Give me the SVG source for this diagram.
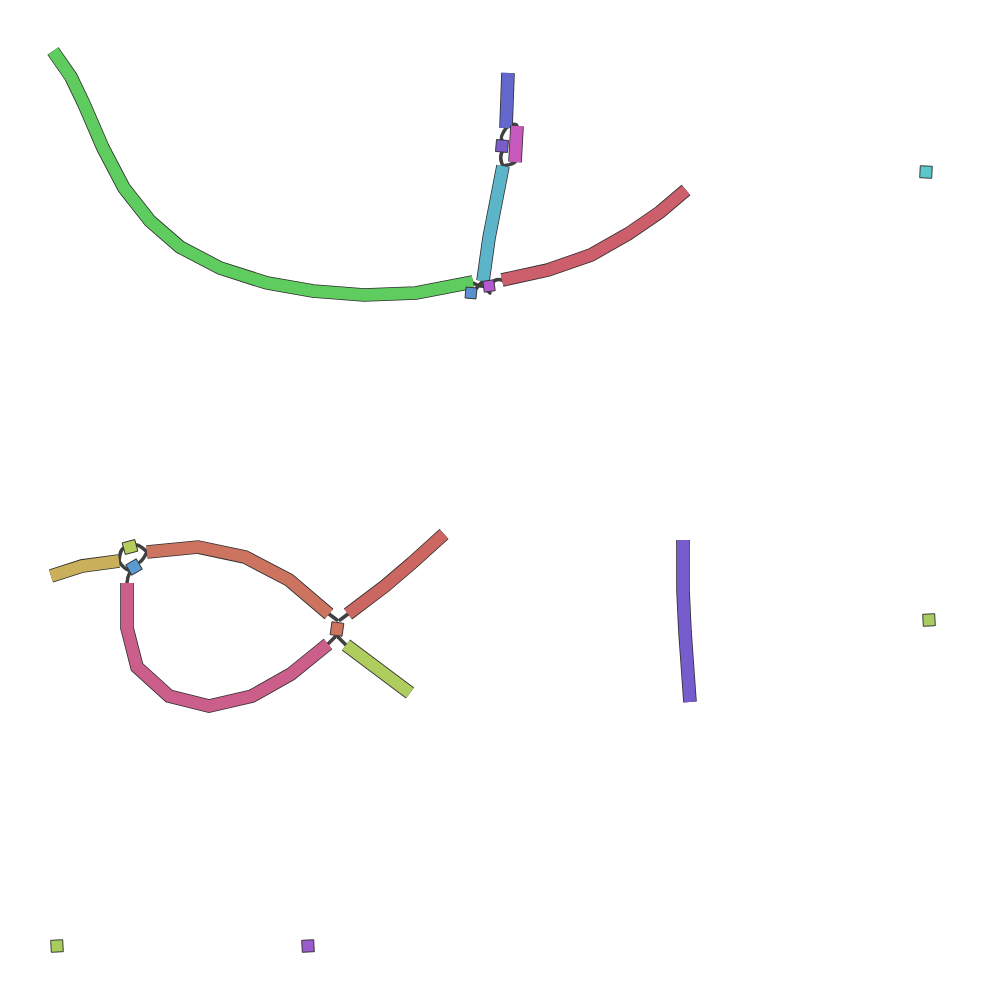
<svg xmlns="http://www.w3.org/2000/svg" xmlns:xlink="http://www.w3.org/1999/xlink" width="982" height="1000" viewBox="0 0 982 1000">
<style>
.o{fill:none;stroke:#2f2f2f;stroke-width:13.6;stroke-linejoin:miter;stroke-linecap:butt}
.f{fill:none;stroke-width:12;stroke-linejoin:miter;stroke-linecap:butt}
.sq{stroke:#2f2f2f;stroke-width:0.9}
.c{fill:none;stroke:#404040;stroke-width:3.5;stroke-linecap:round}
</style>
<defs>
<path id="p1" d="M53,51 L71,77 L84,104 L103,148 L124,188 L150,221 L180,247 L220,268 L267,283 L313,291 L364,295 L416,293 L473,282"/>
<path id="p2" d="M483,281 L489,238 L503,166"/>
<path id="p3" d="M508,73 L506,128"/>
<path id="p4" d="M517,126 L515,162"/>
<path id="p5" d="M502,280 L548,270 L591,255 L628,234 L660,212 L686,190"/>
<path id="p6" d="M51,576 L82,566 L119,561"/>
<path id="p7" d="M147,552 L198,547 L245,557 L289,580 L329,614"/>
<path id="p8" d="M127,583 L127,628 L137,667 L169,696 L209,706 L252,696 L291,674 L328,644"/>
<path id="p9" d="M348,614 L385,586 L412,563 L444,534"/>
<path id="p10" d="M346,645 L410,693"/>
<path id="p11" d="M683,540 L683,590 L685,632 L690,702"/>
</defs>
<g id="connectors">
<path class="c" d="M506,128 C502,134 500,138 502,140"/>
<path class="c" d="M502,152 C500,156 501,162 503,166"/>
<path class="c" d="M506,128 C510,124 516,123 517,126"/>
<path class="c" d="M515,162 C512,165 506,165 503,166"/>
<path class="c" d="M473,283 C478,286 482,287 486,286"/>
<path class="c" d="M483,281 C480,284 476,288 474,292"/>
<path class="c" d="M483,281 C484,285 487,291 490,293"/>
<path class="c" d="M492,283 C495,279 499,279 502,280"/>
<path class="c" d="M119,561 C120,552 121,549 124,548"/>
<path class="c" d="M119,561 C121,565 124,568 128,570"/>
<path class="c" d="M137,545 C141,546 144,549 147,552"/>
<path class="c" d="M140,562 C143,560 145,556 147,552"/>
<path class="c" d="M130,572 C128,576 127,580 127,583"/>
<path class="c" d="M329,614 L337,620"/>
<path class="c" d="M348,614 L340,620"/>
<path class="c" d="M328,644 L335,637"/>
<path class="c" d="M346,645 L338,637"/>
</g>
<g id="seg-green"><use xlink:href="#p1" class="o"/><use xlink:href="#p1" class="f" stroke="#5ecc5e"/></g>
<g id="seg-cyan"><use xlink:href="#p2" class="o"/><use xlink:href="#p2" class="f" stroke="#5bb4c8"/></g>
<g id="seg-blue"><use xlink:href="#p3" class="o"/><use xlink:href="#p3" class="f" stroke="#6468cc"/></g>
<g id="seg-magenta"><use xlink:href="#p4" class="o"/><use xlink:href="#p4" class="f" stroke="#c85abe"/></g>
<g id="seg-red"><use xlink:href="#p5" class="o"/><use xlink:href="#p5" class="f" stroke="#cc5f6b"/></g>
<g id="seg-tan"><use xlink:href="#p6" class="o"/><use xlink:href="#p6" class="f" stroke="#cbb05c"/></g>
<g id="seg-salmon"><use xlink:href="#p7" class="o"/><use xlink:href="#p7" class="f" stroke="#cc7460"/></g>
<g id="seg-pink"><use xlink:href="#p8" class="o"/><use xlink:href="#p8" class="f" stroke="#cc5e8c"/></g>
<g id="seg-salmonred"><use xlink:href="#p9" class="o"/><use xlink:href="#p9" class="f" stroke="#cc6660"/></g>
<g id="seg-lime"><use xlink:href="#p10" class="o"/><use xlink:href="#p10" class="f" stroke="#afcc5e"/></g>
<g id="seg-violet"><use xlink:href="#p11" class="o"/><use xlink:href="#p11" class="f" stroke="#765ccc"/></g>
<g id="node-sq1"><rect class="sq" x="-6" y="-6" width="12" height="12" fill="#7a5ccc" transform="translate(502,146) rotate(5)"/></g>
<g id="node-sq2"><rect class="sq" x="-5.5" y="-5.5" width="11" height="11" fill="#5a90d0" transform="translate(471,293) rotate(5)"/></g>
<g id="node-sq3"><rect class="sq" x="-5.5" y="-5.5" width="11" height="11" fill="#b45ad0" transform="translate(489,286) rotate(-8)"/></g>
<g id="node-sq4"><rect class="sq" x="-6" y="-6" width="12" height="12" fill="#5ac8c8" transform="translate(926,172) rotate(3)"/></g>
<g id="node-sq5"><rect class="sq" x="-6.5" y="-6" width="13" height="12" fill="#b4cc5a" transform="translate(130,547) rotate(-15)"/></g>
<g id="node-sq6"><rect class="sq" x="-6" y="-6" width="12" height="12" fill="#5a9ad0" transform="translate(134,567) rotate(-30)"/></g>
<g id="node-sq7"><rect class="sq" x="-6" y="-6.5" width="12" height="13" fill="#cc7460" transform="translate(337,629) rotate(8)"/></g>
<g id="node-sq8"><rect class="sq" x="-6" y="-6" width="12" height="12" fill="#a8cc5e" transform="translate(929,620) rotate(-3)"/></g>
<g id="node-sq9"><rect class="sq" x="-6" y="-6" width="12" height="12" fill="#a8cc5e" transform="translate(57,946) rotate(-3)"/></g>
<g id="node-sq10"><rect class="sq" x="-6" y="-6" width="12" height="12" fill="#9a5ccc" transform="translate(308,946) rotate(-3)"/></g>
</svg>
